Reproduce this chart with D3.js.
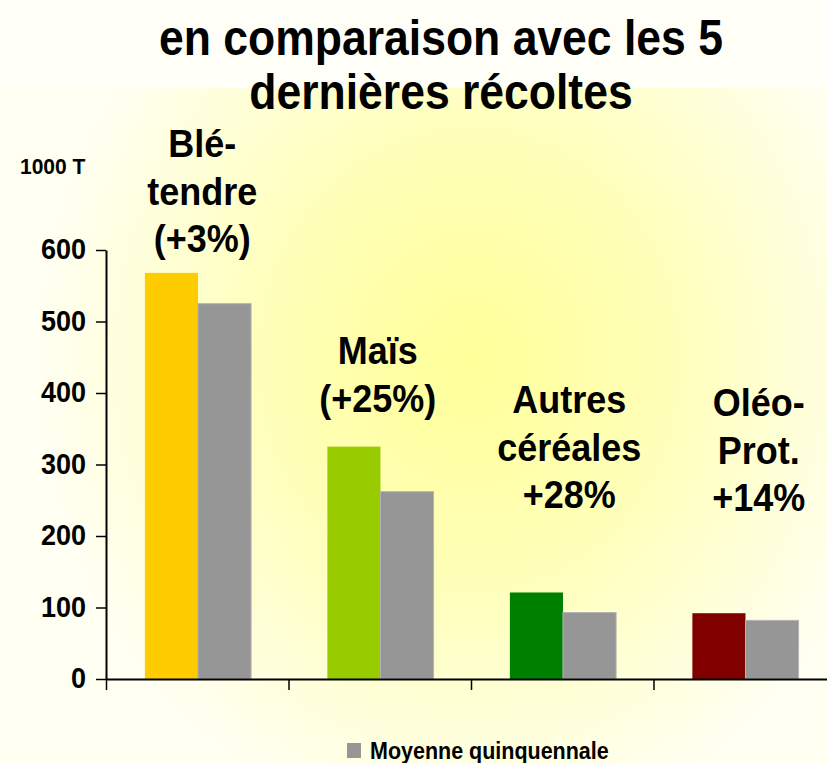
<!DOCTYPE html>
<html>
<head>
<meta charset="utf-8">
<script src="https://cdn.jsdelivr.net/npm/d3@7"></script>
<style>
  html, body { margin: 0; padding: 0; background: #fffff8; }
  svg { display: block; font-family: "Liberation Sans", Arial, sans-serif; font-weight: bold; }
</style>
</head>
<body>
<script>
// ---- data ----
const categories = ["Blé tendre", "Maïs", "Autres céréales", "Oléo-Prot."];
const harvest = [568, 325, 121, 92];          // current harvest (1000 T)
const average5 = [525, 262, 93, 82];          // Moyenne quinquennale
const barColors = ["#ffcc00", "#99cc00", "#008000", "#800000"];
const averageColor = "#969696";
const yTicks = [0, 100, 200, 300, 400, 500, 600];
const categoryLabels = [["Blé-", "tendre", "(+3%)"], ["Maïs", "(+25%)"], ["Autres", "céréales", "+28%"], ["Oléo-", "Prot.", "+14%"]];
const titleLines = ["en comparaison avec les 5", "dernières récoltes"];
const unitLabel = "1000 T";
const legendLabel = "Moyenne quinquennale";

// ---- layout ----
const W = 827, H = 763;
const svg = d3.select("body").append("svg").attr("width", W).attr("height", H);

const defs = svg.append("defs");
const grad = defs.append("radialGradient").attr("id", "bg")
  .attr("gradientUnits", "userSpaceOnUse")
  .attr("cx", 470).attr("cy", 360).attr("r", 430)
  .attr("gradientTransform", "translate(470,360) scale(1,1.1) translate(-470,-360)");
grad.append("stop").attr("offset", "0%").attr("stop-color", "#ffff99");
grad.append("stop").attr("offset", "45%").attr("stop-color", "#ffffb8");
grad.append("stop").attr("offset", "100%").attr("stop-color", "#fffff2");

svg.append("rect").attr("width", W).attr("height", H).attr("fill", "#fffff8");
svg.append("rect").attr("x", 0).attr("y", 88).attr("width", W).attr("height", H - 88).attr("fill", "url(#bg)");

const y = d3.scaleLinear().domain([0, 600]).range([679, 250]);
const xIdx = d3.scaleLinear().domain([0, 4]).range([106, 836]);
const x = d3.scaleBand().domain(categories).range([106, 836]).padding(0);
const bw = x.bandwidth();
const x1 = d3.scaleBand().domain(["h", "m"]).range([bw * 0.213, bw * 0.795]).padding(0);

// bars
const g = svg.append("g");
categories.forEach((c, i) => {
  g.append("rect")
    .attr("x", x(c) + x1("h")).attr("width", x1.bandwidth())
    .attr("y", y(harvest[i])).attr("height", y(0) - y(harvest[i]))
    .attr("fill", barColors[i]);
  g.append("rect")
    .attr("x", x(c) + x1("m")).attr("width", x1.bandwidth())
    .attr("y", y(average5[i])).attr("height", y(0) - y(average5[i]))
    .attr("fill", averageColor).attr("stroke", "#b4b4b4").attr("stroke-width", 1);
});

// y axis
const yAxis = svg.append("g").attr("transform", "translate(106,0)")
  .call(d3.axisLeft(y).tickValues(yTicks).tickSize(10).tickPadding(10).tickSizeOuter(0));
yAxis.select(".domain").attr("stroke", "#000").attr("stroke-width", 2);
yAxis.selectAll(".tick line").attr("stroke", "#000").attr("stroke-width", 1.5);
yAxis.selectAll(".tick text").attr("font-size", 27).attr("font-weight", "bold")
  .attr("font-family", "Liberation Sans, Arial, sans-serif").attr("fill", "#000")
  .attr("transform", "scale(1,1.1)").attr("dy", "0.29em");

// x axis
const xAxis = svg.append("g").attr("transform", "translate(0,679)")
  .call(d3.axisBottom(xIdx).tickValues([0, 1, 2, 3]).tickFormat("").tickSize(11).tickSizeOuter(0));
xAxis.select(".domain").attr("stroke", "#000").attr("stroke-width", 2);
xAxis.selectAll(".tick line").attr("stroke", "#000").attr("stroke-width", 1.5);

// stretched text helper
function stretchedText(parent, tx, ty, sy, size, anchor, str) {
  return parent.append("text")
    .attr("transform", `translate(${tx},${ty}) scale(1,${sy})`)
    .attr("text-anchor", anchor).attr("font-size", size).attr("fill", "#000")
    .text(str);
}

// title
titleLines.forEach((t, i) => stretchedText(svg, 441, 55 + i * 54, 1.13, 44.5, "middle", t));

// unit
stretchedText(svg, 20, 174, 1.05, 21, "start", unitLabel);

// category labels
const labelDx = [5, -2, 7, 14];
const labelTop = [157, 364, 413, 416];
categories.forEach((c, i) => {
  categoryLabels[i].forEach((t, j) =>
    stretchedText(svg, x(c) + bw / 2 + labelDx[i], labelTop[i] + j * 47.5, 1.08, 36, "middle", t));
});

// legend
svg.append("rect").attr("x", 347).attr("y", 743).attr("width", 14).attr("height", 15).attr("fill", averageColor);
stretchedText(svg, 370, 759, 1.08, 21.5, "start", legendLabel);
</script>
</body>
</html>
